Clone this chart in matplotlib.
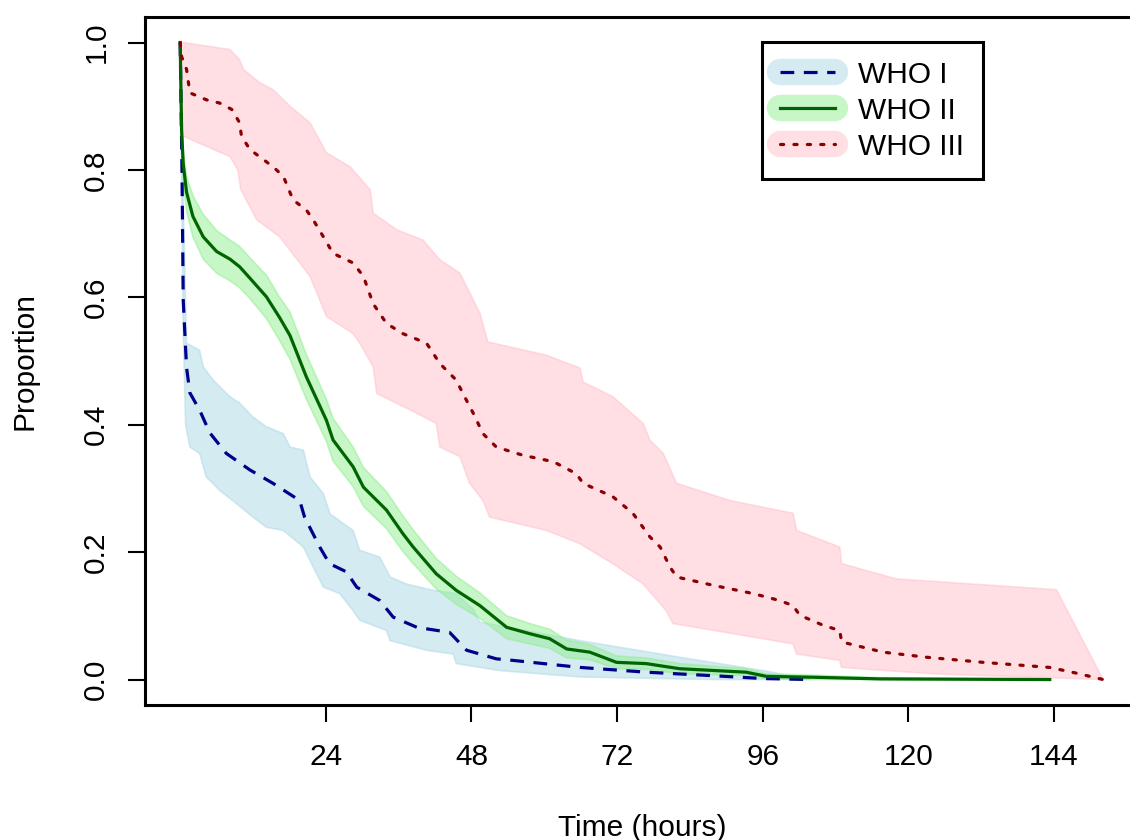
import numpy as np
import matplotlib
matplotlib.use("Agg")
import matplotlib.pyplot as plt
from matplotlib.lines import Line2D

plt.rcParams['font.family'] = ['Liberation Sans', 'DejaVu Sans']

# WHO I (estimate + band)
t1 = [0, 0.3, 0.5, 1.05, 1.6, 3.2, 4.9, 7.6, 11.5, 15.3, 19.7, 20.5, 23.0, 24.6, 27.4, 29.1,
      32.9, 35.1, 39.0, 44.4, 47.2, 52.1, 54.9, 65.9, 76.9, 87.8, 96.0, 103.8]
s1 = [1.0, 0.8, 0.596, 0.49, 0.45, 0.423, 0.387, 0.355, 0.329, 0.308, 0.281, 0.255, 0.208, 0.182,
      0.169, 0.145, 0.124, 0.098, 0.082, 0.074, 0.046, 0.0325, 0.030, 0.019, 0.0115, 0.006, 0.0016, 0.0]
t1_up = [0, 0.5, 1.05, 3.2, 3.8, 5.45, 8.2, 9.8, 12.0, 14.2, 17.0, 18.1, 20.3, 21.4, 23.6, 24.7,
         28.5, 29.6, 32.9, 34.6, 37.3, 41.7, 45.5, 48.3, 49.4, 65.9, 82.3, 96.1, 103.8]
s1_up = [1.0, 0.75, 0.528, 0.517, 0.491, 0.47, 0.444, 0.434, 0.412, 0.397, 0.386, 0.365, 0.36, 0.318,
         0.292, 0.26, 0.234, 0.203, 0.192, 0.161, 0.150, 0.14, 0.135, 0.11, 0.09, 0.061, 0.035, 0.014, 0.0]
t1_lo = [0, 0.5, 0.9, 1.6, 3.2, 4.3, 6.5, 9.3, 12.0, 14.2, 17.0, 20.3, 21.9, 23.6, 26.3, 28.5, 29.6,
         34.0, 34.6, 40.6, 45.0, 45.5, 52.7, 65.9, 87.8, 103.8]
s1_lo = [1.0, 0.55, 0.40, 0.365, 0.355, 0.318, 0.297, 0.276, 0.255, 0.239, 0.234, 0.208, 0.177, 0.145,
         0.135, 0.108, 0.093, 0.077, 0.061, 0.046, 0.04, 0.025, 0.014, 0.004, 0.0, 0.0]

# WHO II
t2 = [0, 0.23, 0.5, 1.05, 2.1, 3.8, 6.0, 8.2, 9.8, 11.5, 14.2, 16.4, 18.1, 20.8, 24.1, 25.2, 28.5,
      30.2, 34.0, 36.7, 38.4, 42.2, 45.5, 49.4, 53.8, 57.6, 60.9, 63.7, 67.5, 71.9, 76.8, 82.3, 93.3,
      96.6, 104.3, 115.3, 143.3]
s2 = [1.0, 0.863, 0.81, 0.765, 0.727, 0.695, 0.672, 0.66, 0.648, 0.630, 0.601, 0.568, 0.540, 0.475,
      0.407, 0.376, 0.334, 0.302, 0.266, 0.229, 0.208, 0.166, 0.14, 0.116, 0.082, 0.072, 0.064, 0.048,
      0.043, 0.027, 0.025, 0.017, 0.0115, 0.005, 0.0036, 0.001, 0.0]
s2_up = [1.0, 0.87, 0.83, 0.79, 0.76, 0.73, 0.705, 0.69, 0.68, 0.662, 0.635, 0.60, 0.577, 0.51, 0.44,
         0.41, 0.365, 0.333, 0.295, 0.257, 0.235, 0.19, 0.162, 0.136, 0.1, 0.088, 0.079, 0.062, 0.055,
         0.037, 0.034, 0.025, 0.017, 0.009, 0.007, 0.003, 0.0]
s2_lo = [1.0, 0.84, 0.78, 0.735, 0.695, 0.66, 0.638, 0.626, 0.615, 0.598, 0.567, 0.532, 0.503, 0.44,
         0.374, 0.343, 0.303, 0.272, 0.237, 0.201, 0.182, 0.142, 0.118, 0.096, 0.064, 0.056, 0.049,
         0.034, 0.031, 0.017, 0.016, 0.009, 0.006, 0.001, 0.0, 0.0, 0.0]

# WHO III
t3 = [0, 0.23, 1.05, 1.6, 4.35, 6.5, 8.5, 9.8, 10.1, 11.5, 15.3, 17.0, 18.6, 20.8, 21.9, 23.6, 25.2,
      28.5, 30.2, 31.8, 34.0, 36.7, 40.6, 42.8, 45.5, 46.6, 48.3, 49.9, 52.1, 56.5, 61.5, 65.3, 66.4,
      71.3, 74.6, 77.4, 79.1, 80.7, 81.8, 87.8, 94.4, 98.8, 101.0, 102.1, 106.0, 108.7, 109.0, 115.8,
      123.0, 132.3, 143.3, 147.7, 152.1]
s3 = [1.0, 0.978, 0.958, 0.921, 0.91, 0.905, 0.895, 0.874, 0.853, 0.832, 0.805, 0.79, 0.753, 0.737,
      0.722, 0.695, 0.669, 0.654, 0.633, 0.59, 0.559, 0.543, 0.528, 0.496, 0.47, 0.449, 0.418, 0.386,
      0.365, 0.352, 0.342, 0.323, 0.308, 0.287, 0.261, 0.224, 0.208, 0.177, 0.161, 0.148, 0.135, 0.124,
      0.116, 0.101, 0.085, 0.077, 0.059, 0.043, 0.035, 0.027, 0.019, 0.01, 0.0]
t3_up = [0, 0.5, 8.2, 9.8, 10.4, 13.1, 15.3, 18.1, 21.4, 24.1, 28.0, 31.3, 31.8, 35.7, 40.0, 42.8,
         46.1, 49.4, 50.7, 60.4, 65.9, 66.4, 71.3, 76.3, 77.4, 79.6, 81.8, 90.6, 101.0, 101.6, 108.7,
         109.0, 118.0, 144.4, 152.1]
s3_up = [1.0, 1.0, 0.989, 0.973, 0.958, 0.937, 0.926, 0.9, 0.874, 0.827, 0.805, 0.769, 0.732, 0.706,
         0.69, 0.659, 0.638, 0.575, 0.530, 0.509, 0.489, 0.467, 0.444, 0.402, 0.376, 0.355, 0.308,
         0.281, 0.261, 0.234, 0.208, 0.182, 0.158, 0.141, 0.0]
t3_lo = [0, 0.5, 8.2, 9.5, 10.0, 12.6, 16.4, 18.1, 21.4, 23.0, 24.1, 28.5, 29.6, 31.8, 32.4, 39.0,
         42.2, 42.8, 46.1, 47.7, 49.9, 51.0, 60.4, 65.9, 71.3, 76.3, 80.1, 81.2, 101.0, 101.6, 108.7,
         109.0, 124.0, 152.1]
s3_lo = [1.0, 0.853, 0.821, 0.80, 0.769, 0.722, 0.695, 0.674, 0.633, 0.596, 0.57, 0.543, 0.528,
         0.491, 0.449, 0.418, 0.402, 0.365, 0.35, 0.308, 0.281, 0.255, 0.234, 0.213, 0.182, 0.15, 0.108,
         0.088, 0.056, 0.04, 0.03, 0.019, 0.009, 0.0]

labels = ['WHO I', 'WHO II', 'WHO III']
x_ticks = [24, 48, 72, 96, 120, 144]
y_ticks = [0.0, 0.2, 0.4, 0.6, 0.8, 1.0]


def band(ax, tu, su, tl, sl, col):
    xs = np.concatenate([tu, tl[::-1]])
    ys = np.concatenate([su, sl[::-1]])
    ax.fill(xs, ys, facecolor=col, edgecolor=col, alpha=0.5, lw=1.2)


fs = 21.5
fig = plt.figure(figsize=(11.3, 8.4), dpi=100)
ax = fig.add_axes([0.1283, 0.1607, 0.8796, 0.819])

band(ax, t1_up, s1_up, t1_lo, s1_lo, '#ADD8E6')
band(ax, t2, s2_up, t2, s2_lo, '#90EE90')
band(ax, t3_up, s3_up, t3_lo, s3_lo, '#FFC0CB')

l1, = ax.plot(t1, s1, color='#00008B', lw=2.3, dashes=(4.3, 3.0))
l2, = ax.plot(t2, s2, color='#006400', lw=2.3)
l3, = ax.plot(t3, s3, color='#8B0000', lw=2.3, dashes=(1.0, 3.2), dash_capstyle='round')

ax.set_xlim(-5.8, 158)
ax.set_ylim(-0.04, 1.04)
ax.set_xticks(x_ticks)
ax.set_xticklabels([str(v) for v in x_ticks])
ax.set_yticks(y_ticks)
ax.set_yticklabels(['%.1f' % v for v in y_ticks], rotation=90, va='center')
ax.tick_params(axis='both', direction='out', length=12, width=1.5, labelsize=fs)
ax.tick_params(axis='x', pad=15)
ax.tick_params(axis='y', pad=13)
for sp in ax.spines.values():
    sp.set_linewidth(2.2)

ax.set_xlabel('Time (hours)', fontsize=fs, va='center')
ax.set_ylabel('Proportion', fontsize=fs, va='center')
ax.xaxis.set_label_coords(0.5, -0.179)
ax.yaxis.set_label_coords(-0.121, 0.5)

fills = ['#ADD8E6', '#90EE90', '#FFC0CB']
handles = []
for f, l in zip(fills, [l1, l2, l3]):
    pill = Line2D([], [], color=f, alpha=0.5, lw=19, solid_capstyle='round')
    handles.append((pill, l))

leg = ax.legend(handles, labels, loc='upper right', bbox_to_anchor=(983 / 1130, 1 - 42 / 840),
                bbox_transform=fig.transFigure, borderaxespad=0, fontsize=fs, fancybox=False,
                edgecolor='black', framealpha=1, handlelength=1.85, labelspacing=0.27,
                borderpad=0.62, handletextpad=0.77)
leg.get_frame().set_linewidth(2.2)

fig.savefig('out.png', dpi=100)
